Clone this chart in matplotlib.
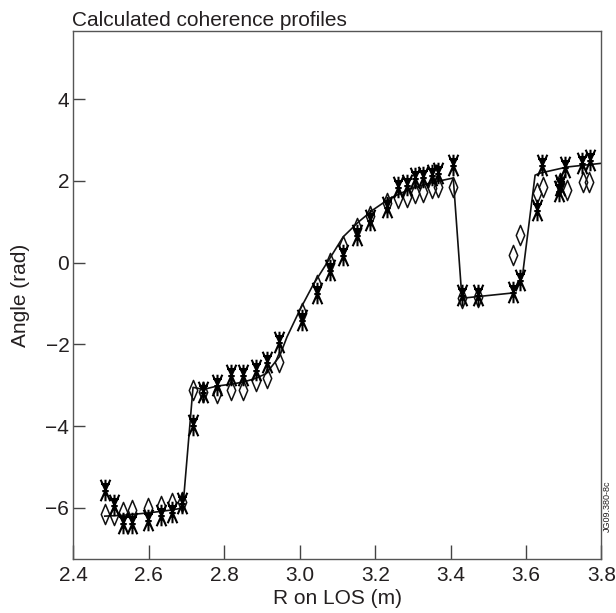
import matplotlib
matplotlib.use("Agg")
import matplotlib.pyplot as plt
from matplotlib.path import Path

plt.rcParams['font.family'] = ['Liberation Sans', 'DejaVu Sans']

# fitted profile
fit_r = [2.483, 2.53, 2.60, 2.66, 2.69, 2.717, 2.745, 2.78, 2.82, 2.85, 2.88, 2.91,
         2.946, 2.966, 3.0, 3.035, 3.08, 3.115, 3.155, 3.194, 3.24, 3.30, 3.35,
         3.407, 3.430, 3.566, 3.59, 3.624, 3.637, 3.709, 3.80]
fit_angle = [-6.2, -6.18, -6.12, -6.05, -6.0, -3.05, -3.1, -3.02, -2.97, -2.92, -2.84, -2.72,
             -2.3, -1.82, -1.16, -0.55, 0.11, 0.63, 0.99, 1.29, 1.58, 1.83, 1.96,
             2.07, -0.87, -0.74, -0.36, 2.14, 2.19, 2.34, 2.43]

# measured phase (asterisks)
meas_r = [2.483, 2.507, 2.531, 2.555, 2.598, 2.632, 2.661, 2.688, 2.717, 2.743,
          2.781, 2.817, 2.850, 2.884, 2.914, 2.946, 3.006, 3.046, 3.080, 3.115,
          3.152, 3.186, 3.231, 3.261, 3.285, 3.306, 3.327, 3.351, 3.367, 3.407,
          3.430, 3.473, 3.566, 3.583, 3.629, 3.643, 3.688, 3.691, 3.704, 3.749, 3.770]
meas_angle = [-5.56, -5.93, -6.37, -6.37, -6.29, -6.17, -6.10, -5.88, -3.97, -3.16,
              -2.99, -2.75, -2.75, -2.63, -2.43, -1.94, -1.40, -0.74, -0.18, 0.19,
              0.67, 1.04, 1.36, 1.85, 1.90, 2.06, 2.09, 2.14, 2.19, 2.39,
              -0.79, -0.79, -0.71, -0.43, 1.28, 2.39, 1.75, 1.90, 2.34, 2.43, 2.51]

# calculated phase (diamonds)
calc_r = [2.483, 2.507, 2.531, 2.555, 2.598, 2.632, 2.661, 2.688, 2.717, 2.743,
          2.781, 2.817, 2.850, 2.884, 2.914, 2.946, 3.006, 3.046, 3.080, 3.115,
          3.152, 3.186, 3.231, 3.261, 3.285, 3.306, 3.327, 3.351, 3.367, 3.407,
          3.430, 3.473, 3.566, 3.583, 3.629, 3.645, 3.691, 3.709, 3.752, 3.767]
calc_angle = [-6.15, -6.17, -6.10, -6.05, -6.00, -5.95, -5.88, -5.85, -3.12, -3.16,
              -3.19, -3.12, -3.12, -2.90, -2.82, -2.43, -1.23, -0.55, 0.0, 0.4,
              0.85, 1.15, 1.45, 1.58, 1.61, 1.70, 1.73, 1.82, 1.85, 1.85,
              -0.87, -0.84, 0.19, 0.67, 1.70, 1.85, 1.94, 1.78, 1.97, 1.97]

x_ticks = [2.4, 2.6, 2.8, 3.0, 3.2, 3.4, 3.6, 3.8]
y_ticks = [-6, -4, -2, 0, 2, 4]

# asterisk: X plus vertical stroke, with two cross bars
M, L = Path.MOVETO, Path.LINETO
star = Path(
    [(-0.45, 1), (0.45, -1), (0.45, 1), (-0.45, -1), (0, 1), (0, -1),
     (-0.4, 0.6), (0.4, 0.6), (-0.3, -0.05), (0.3, -0.05)],
    [M, L, M, L, M, L, M, L, M, L])
diamond = Path([(0, 1), (0.42, 0), (0, -1), (-0.42, 0), (0, 1)],
               [M, L, L, L, Path.CLOSEPOLY])

ink = '#231f20'
fig = plt.figure(figsize=(6.16, 6.13), dpi=100)
ax = fig.add_axes([0.1193, 0.088, 0.8571, 0.861])

ax.plot(fit_r, fit_angle, color='#111111', lw=1.2, zorder=2)
ax.plot(calc_r, calc_angle, ls='none', marker=diamond, ms=14.5,
        mfc='none', mec='#111111', mew=1.1, zorder=3)
ax.plot(meas_r, meas_angle, ls='none', marker=star, ms=15.5,
        mfc='none', mec='black', mew=1.5, zorder=4)

ax.set_xlim(2.4, 3.8)
ax.set_ylim(-7.25, 5.66)
ax.set_xticks(x_ticks)
ax.set_xticklabels([f'{v:.1f}' for v in x_ticks])
ax.set_yticks(y_ticks)
ax.set_yticklabels([f'{v}'.replace('-', '\u2212') for v in y_ticks])
ax.tick_params(axis='x', direction='in', length=10, width=1.0, color='#444444',
               labelsize=15, labelcolor=ink, pad=5)
ax.tick_params(axis='y', direction='in', length=8.5, width=1.0, color='#444444',
               labelsize=15, labelcolor=ink, pad=3)
for s in ax.spines.values():
    s.set_color('#555555')
    s.set_linewidth(1.0)

ax.set_xlabel('R on LOS (m)', fontsize=15, color=ink, labelpad=3)
ax.set_ylabel('Angle (rad)', fontsize=15, color=ink, labelpad=11)
ax.set_title('Calculated coherence profiles', loc='left', fontsize=15,
             color=ink, pad=4, x=-0.003)

fig.text(0.9855, 0.132, 'JG09.380-8c', rotation=90, fontsize=6.5,
         color=ink, ha='center', va='bottom')

fig.savefig('out.png', dpi=100)
